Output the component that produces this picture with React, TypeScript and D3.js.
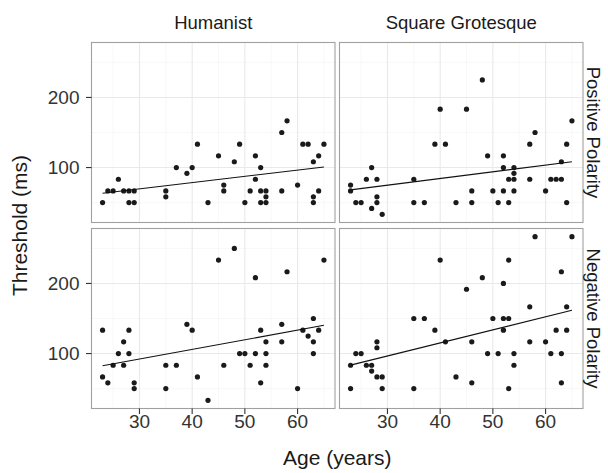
import React from "react";
import * as d3 from "d3";

const fonts = ["Humanist", "Square Grotesque"];
const polarities = ["Positive Polarity", "Negative Polarity"];
const xTicks = [30, 40, 50, 60];
const yTicks = [100, 200];

// Humanist, Positive Polarity
const humPosAge = [23, 24, 25, 26, 27, 28, 28, 29, 29, 35, 35, 37, 39, 40, 41, 43, 45, 46, 46, 48, 49, 50, 51, 52, 52, 53, 53, 53, 54, 54, 54, 57, 57, 58, 60, 61, 62, 63, 63, 63, 64, 64, 65];
const humPosThr = [50, 66.7, 66.7, 83.3, 66.7, 66.7, 50, 66.7, 50, 66.7, 58.3, 100, 91.7, 100, 133.3, 50, 116.7, 75, 66.7, 108.3, 133.3, 50, 66.7, 116.7, 83.3, 100, 66.7, 50, 66.7, 58.3, 50, 150, 66.7, 166.7, 75, 133.3, 133.3, 108.3, 58.3, 50, 116.7, 66.7, 133.3];

// Square Grotesque, Positive Polarity
const sqPosAge = [23, 23, 24, 25, 26, 27, 27, 28, 28, 28, 29, 35, 35, 37, 39, 40, 41, 43, 45, 46, 46, 48, 49, 50, 51, 52, 52, 52, 53, 53, 54, 54, 54, 54, 57, 57, 58, 60, 61, 62, 63, 63, 64, 64, 65];
const sqPosThr = [75, 66.7, 50, 50, 83.3, 100, 41.7, 83.3, 58.3, 50, 33.3, 83.3, 50, 50, 133.3, 183.3, 133.3, 50, 183.3, 66.7, 50, 225, 116.7, 66.7, 50, 116.7, 100, 66.7, 83.3, 50, 100, 91.7, 83.3, 66.7, 133.3, 83.3, 150, 66.7, 83.3, 83.3, 83.3, 108.3, 133.3, 50, 166.7];

// Humanist, Negative Polarity
const humNegAge = [23, 23, 24, 25, 26, 27, 27, 28, 28, 29, 29, 35, 35, 37, 39, 40, 41, 43, 45, 46, 48, 49, 50, 51, 52, 52, 53, 53, 54, 54, 54, 57, 57, 58, 60, 61, 62, 63, 63, 63, 64, 65];
const humNegThr = [133.3, 66.7, 58.3, 83.3, 100, 116.7, 83.3, 133.3, 100, 58.3, 50, 83.3, 50, 83.3, 141.7, 133.3, 66.7, 33.3, 233.3, 83.3, 250, 100, 100, 83.3, 208.3, 100, 133.3, 58.3, 116.7, 100, 83.3, 141.7, 116.7, 216.7, 50, 133.3, 125, 150, 116.7, 100, 133.3, 233.3];

// Square Grotesque, Negative Polarity
const sqNegAge = [23, 23, 24, 25, 26, 27, 27, 28, 28, 28, 29, 29, 35, 35, 37, 39, 40, 41, 43, 45, 46, 46, 48, 49, 50, 51, 52, 52, 52, 53, 53, 53, 54, 54, 57, 57, 58, 60, 61, 62, 63, 63, 63, 64, 64, 65];
const sqNegThr = [83.3, 50, 100, 100, 83.3, 83.3, 75, 116.7, 108.3, 66.7, 66.7, 50, 150, 50, 150, 133.3, 233.3, 116.7, 66.7, 191.7, 116.7, 58.3, 208.3, 100, 150, 100, 200, 150, 133.3, 233.3, 150, 50, 100, 83.3, 166.7, 116.7, 266.7, 116.7, 100, 133.3, 216.7, 100, 58.3, 166.7, 133.3, 266.7];

const panelsData = [
  [ { age: humPosAge, thr: humPosThr }, { age: sqPosAge, thr: sqPosThr } ],
  [ { age: humNegAge, thr: humNegThr }, { age: sqNegAge, thr: sqNegThr } ],
];

const W = 608, H = 473;
const panelX0 = [91.5, 339.5];
const panelW = 243.5;
const panelY0 = [42.5, 228.5];
const panelH = 180;
const FONT = "'Liberation Sans', Arial, Helvetica, sans-serif";

const allAges = [...humPosAge, ...sqPosAge, ...humNegAge, ...sqNegAge];
const allThr = [...humPosThr, ...sqPosThr, ...humNegThr, ...sqNegThr];
const [aMin, aMax] = d3.extent(allAges) as [number, number];
const [tMin, tMax] = d3.extent(allThr) as [number, number];
const aPad = (aMax - aMin) * 0.05;
const tPad = (tMax - tMin) * 0.05;

function lm(xs: number[], ys: number[]) {
  const mx = d3.mean(xs)!, my = d3.mean(ys)!;
  let sxy = 0, sxx = 0;
  xs.forEach((x, i) => { sxy += (x - mx) * (ys[i] - my); sxx += (x - mx) * (x - mx); });
  const b = sxy / sxx;
  return { a: my - b * mx, b };
}

function Panel({ row, col }: { row: number; col: number }) {
  const x0 = panelX0[col], y0 = panelY0[row];
  const x = d3.scaleLinear().domain([aMin - aPad, aMax + aPad]).range([x0, x0 + panelW]);
  const y = d3.scaleLinear().domain([tMin - tPad, tMax + tPad]).range([y0 + panelH, y0]);
  const d = panelsData[row][col];
  const fit = lm(d.age, d.thr);
  const [fa0, fa1] = d3.extent(d.age) as [number, number];
  const line = d3.line<number>().x((a) => x(a)).y((a) => y(fit.a + fit.b * a));
  const minorX = [25, 35, 45, 55, 65];
  const minorY = [50, 150, 250];
  return (
    <g>
      <rect x={x0} y={y0} width={panelW} height={panelH} fill="#fff" />
      {minorX.map((v) => (
        <line key={"mx" + v} x1={x(v)} x2={x(v)} y1={y0} y2={y0 + panelH} stroke="#f4f4f4" strokeWidth={0.6} />
      ))}
      {minorY.map((v) => (
        <line key={"my" + v} x1={x0} x2={x0 + panelW} y1={y(v)} y2={y(v)} stroke="#f4f4f4" strokeWidth={0.6} />
      ))}
      {xTicks.map((v) => (
        <line key={"gx" + v} x1={x(v)} x2={x(v)} y1={y0} y2={y0 + panelH} stroke="#e9e9e9" strokeWidth={1.1} />
      ))}
      {yTicks.map((v) => (
        <line key={"gy" + v} x1={x0} x2={x0 + panelW} y1={y(v)} y2={y(v)} stroke="#e9e9e9" strokeWidth={1.1} />
      ))}
      {d.age.map((a, i) => (
        <circle key={i} cx={x(a)} cy={y(d.thr[i])} r={2.6} fill="#1a1a1a" />
      ))}
      <path d={line([fa0, fa1]) || ""} stroke="#111" strokeWidth={1.1} fill="none" />
      <rect x={x0} y={y0} width={panelW} height={panelH} fill="none" stroke="#a0a0a0" strokeWidth={1.1} />
      {col === 0 && yTicks.map((v) => (
        <g key={"ty" + v}>
          <line x1={x0 - 5.5} x2={x0} y1={y(v)} y2={y(v)} stroke="#333" strokeWidth={1.1} />
          <text x={x0 - 12} y={y(v)} dy="0.36em" textAnchor="end" fontSize={19} fill="#333" fontFamily={FONT}>{v}</text>
        </g>
      ))}
      {row === 1 && xTicks.map((v) => (
        <g key={"tx" + v}>
          <line x1={x(v)} x2={x(v)} y1={y0 + panelH} y2={y0 + panelH + 5.5} stroke="#333" strokeWidth={1.1} />
          <text x={x(v)} y={y0 + panelH + 19.5} textAnchor="middle" fontSize={19} fill="#333" fontFamily={FONT}>{v}</text>
        </g>
      ))}
    </g>
  );
}

export default function App() {
  return (
    <svg width={W} height={H} style={{ position: "absolute", left: 0, top: 0, background: "#fff" }}>
      <rect width={W} height={H} fill="#fff" />
      {[0, 1].map((r) => [0, 1].map((c) => <Panel key={r + "-" + c} row={r} col={c} />))}
      {fonts.map((f, c) => (
        <text key={f} x={panelX0[c] + panelW / 2} y={29} textAnchor="middle" fontSize={18.5} fill="#1a1a1a" fontFamily={FONT}>{f}</text>
      ))}
      {polarities.map((p, r) => (
        <text key={p} transform={`translate(${587}, ${panelY0[r] + panelH / 2}) rotate(90)`} textAnchor="middle" fontSize={18.5} fill="#1a1a1a" fontFamily={FONT}>{p}</text>
      ))}
      <text x={(panelX0[0] + panelX0[1] + panelW) / 2} y={465} textAnchor="middle" fontSize={21} fill="#1a1a1a" fontFamily={FONT}>Age (years)</text>
      <text transform={`translate(${27}, ${(panelY0[0] + panelY0[1] + panelH) / 2}) rotate(-90)`} textAnchor="middle" fontSize={21} fill="#1a1a1a" fontFamily={FONT}>Threshold (ms)</text>
    </svg>
  );
}
